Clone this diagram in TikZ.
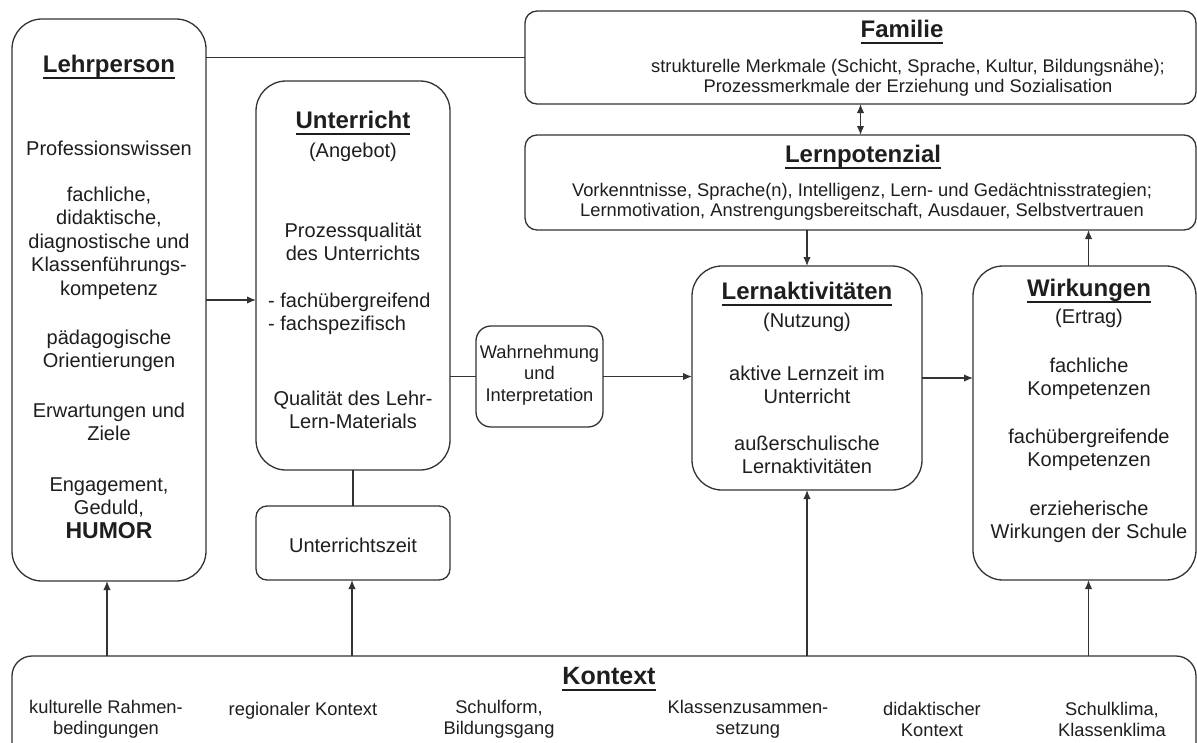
\documentclass[tikz,border=0pt]{standalone}
\usepackage{fontspec}
\setmainfont{Liberation Sans}
\usetikzlibrary{arrows.meta}
\definecolor{linec}{HTML}{333333}
\definecolor{textc}{HTML}{1E1E1E}
\newsavebox\ttlbox
% underlined heading with a fixed rule position
\newcommand\ttlul[1]{\sbox\ttlbox{#1}\rlap{\rule[-6.5pt]{\wd\ttlbox}{1.8pt}}\usebox\ttlbox}

\begin{document}
\begin{tikzpicture}[x=1pt,y=-1pt,
  box/.style={draw=linec,line width=1.3pt,inner sep=0pt,outer sep=0pt,rounded corners=#1},
  box/.default=30pt,
  body/.style={font=\fontsize{20}{23.5}\selectfont,align=center,inner sep=0pt,text=textc},
  small/.style={font=\fontsize{18.3}{19.5}\selectfont,align=center,inner sep=0pt,text=textc},
  ctx/.style={font=\fontsize{18.3}{21}\selectfont,align=center,inner sep=0pt,text=textc},
  heading/.style={font=\fontsize{24}{28}\selectfont\bfseries,inner sep=0pt,anchor=base,text=textc},
  link/.style={draw=linec,line width=1.4pt},
  arr/.style={link,-{Latex[length=9pt,width=7.5pt]}},
  darr/.style={link,{Latex[length=9pt,width=7.5pt]}-{Latex[length=9pt,width=7.5pt]}},
]
\useasboundingbox (0,0) rectangle (1197,742);
\fill[white] (0,0) rectangle (1197,742);
\clip (0,0) rectangle (1197,742);

% ---------- boxes ----------
\node[box, minimum width=194pt, minimum height=562pt] (lehr) at (109,300) {};
\node[box, minimum width=194pt, minimum height=389pt] (unt) at (353,275.5) {};
\node[box=11pt, minimum width=194pt, minimum height=74pt] (uzeit) at (353,543) {};
\node[box=15pt, minimum width=127pt, minimum height=101pt] (wahr) at (539.5,376.5) {};
\node[box, minimum width=230pt, minimum height=224pt] (lakt) at (807,378) {};
\node[box, minimum width=223pt, minimum height=314pt] (wirk) at (1084.5,423) {};
\node[box=12pt, minimum width=671pt, minimum height=93pt] (fam) at (860.5,57.5) {};
\node[box=12pt, minimum width=671pt, minimum height=95pt] (lpot) at (860.5,182.5) {};
\node[box=20pt, minimum width=1184pt, minimum height=134pt] (kon) at (604,723) {};

% ---------- Lehrperson ----------
\node[heading] (lehrT) at (109,72) {\ttlul{Lehrperson}};
\node[body] (lehr1) at (109,148) {Professionswissen};
\node[body] (lehr2) at (109,243) {fachliche,\\didaktische,\\diagnostische und\\Klassenführungs-\\kompetenz};
\node[body] (lehr3) at (109,351) {pädagogische\\Orientierungen};
\node[body] (lehr4) at (109,422) {Erwartungen  und\\Ziele};
\node[body] (lehr5) at (109,508) {Engagement,\\Geduld,\\{\fontsize{23}{23.5}\selectfont\bfseries HUMOR}};

% ---------- Unterricht ----------
\node[heading] (untT) at (353,128) {\ttlul{Unterricht}};
\node[body] (unt0) at (353,152) {(Angebot)};
\node[body] (unt1) at (353,242) {Prozessqualität\\des Unterrichts};
\node[body, align=left, anchor=west] (unt2) at (268,314) {- fachübergreifend\\- fachspezifisch};
\node[body] (unt3) at (353,410) {Qualität des Lehr-\\Lern-Materials};
\node[body] (uzeitT) at (353,545) {Unterrichtszeit};

% ---------- Wahrnehmung ----------
\node[font=\fontsize{18.3}{21.5}\selectfont, align=center, inner sep=0pt, text=textc] (wahrT) at (539.5,375) {Wahrnehmung\\und\\Interpretation};

% ---------- Lernaktivitaeten ----------
\node[heading] (laktT) at (807,299) {\ttlul{Lernaktivitäten}};
\node[body] (lakt0) at (807,322) {(Nutzung)};
\node[body] (lakt1) at (807,385) {aktive Lernzeit im\\Unterricht};
\node[body] (lakt2) at (807,455) {außerschulische\\Lernaktivitäten};

% ---------- Wirkungen ----------
\node[heading] (wirkT) at (1089,296) {\ttlul{Wirkungen}};
\node[body] (wirk0) at (1089,318) {(Ertrag)};
\node[body] (wirk1) at (1089,379) {fachliche\\Kompetenzen};
\node[body] (wirk2) at (1089,450) {fachübergreifende\\Kompetenzen};
\node[body] (wirk3) at (1089,522) {erzieherische\\Wirkungen der Schule};

% ---------- Familie / Lernpotenzial ----------
\node[heading] (famT) at (902,37) {\ttlul{Familie}};
\node[small] (fam1) at (908,78) {strukturelle Merkmale (Schicht, Sprache, Kultur, Bildungsnähe);\\Prozessmerkmale der Erziehung und Sozialisation};
\node[heading] (lpotT) at (863,162) {\ttlul{Lernpotenzial}};
\node[small] (lpot1) at (862,202) {Vorkenntnisse, Sprache(n), Intelligenz,  Lern- und Gedächtnisstrategien;\\Lernmotivation, Anstrengungsbereitschaft, Ausdauer, Selbstvertrauen};

% ---------- Kontext ----------
\node[heading, font=\fontsize{25}{28}\selectfont\bfseries] (konT) at (609,684) {\ttlul{Kontext}};
\node[ctx] (kon1) at (106,719) {kulturelle Rahmen-\\bedingungen};
\node[ctx, anchor=base] (kon2) at (303,715) {regionaler Kontext};
\node[ctx] (kon3) at (499,719) {Schulform,\\Bildungsgang};
\node[ctx] (kon4) at (748,719) {Klassenzusammen-\\setzung};
\node[ctx] (kon5) at (932,719) {didaktischer\\Kontext};
\node[ctx] (kon6) at (1112,719) {Schulklima,\\Klassenklima};

% ---------- connectors ----------
\draw[link] (lehr.east |- fam.west) -- (fam.west);
\draw[arr] (lehr.east) -- (lehr.east -| unt.west);
\draw[link] (unt.south) -- (uzeit.north);
\draw[link] (unt.east |- wahr.west) -- (wahr.west);
\draw[arr] (wahr.east) -- (wahr.east -| lakt.west);
\draw[arr] (lakt.east) -- (lakt.east -| wirk.west);
\draw[arr] (lakt.north |- lpot.south) -- (lakt.north);
\draw[arr] ([xshift=4pt]wirk.north) -- ([xshift=4pt]wirk.north |- lpot.south);
\draw[darr] (fam.south) -- (lpot.north);
\draw[arr] ([xshift=-2pt]lehr.south |- kon.north) -- ([xshift=-2pt]lehr.south);
\draw[arr] ([xshift=-1pt]uzeit.south |- kon.north) -- ([xshift=-1pt]uzeit.south);
\draw[arr] (lakt.south |- kon.north) -- (lakt.south);
\draw[arr] ([xshift=4pt]wirk.south |- kon.north) -- ([xshift=4pt]wirk.south);
\end{tikzpicture}
\end{document}
